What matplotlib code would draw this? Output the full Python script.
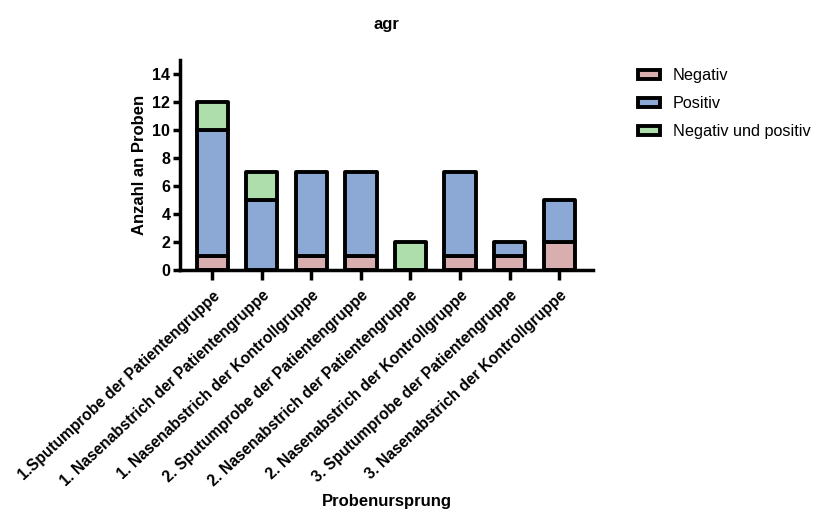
import numpy as np
import matplotlib.pyplot as plt
from matplotlib.patches import Patch

plt.rcParams['font.family'] = ['Liberation Sans', 'DejaVu Sans']

categories = [
    "1.Sputumprobe der Patientengruppe",
    "1. Nasenabstrich der Patientengruppe",
    "1. Nasenabstrich der Kontrollgruppe",
    "2. Sputumprobe der Patientengruppe",
    "2. Nasenabstrich der Patientengruppe",
    "2. Nasenabstrich der Kontrollgruppe",
    "3. Sputumprobe der Patientengruppe",
    "3. Nasenabstrich der Kontrollgruppe",
]
negativ = [1, 0, 1, 1, 0, 1, 1, 2]
positiv = [9, 5, 6, 6, 0, 6, 1, 3]
neg_und_pos = [2, 2, 0, 0, 2, 0, 0, 0]

series = [
    ("Negativ", negativ, "#D8AEAE"),
    ("Positiv", positiv, "#8BA9D4"),
    ("Negativ und positiv", neg_und_pos, "#ADDEAB"),
]

fig = plt.figure(figsize=(8.16, 5.29), dpi=100)
ax = fig.add_axes([0.2206, 0.4896, 0.506, 0.397])

x = np.arange(len(categories))
bottom = np.zeros(len(categories))
for name, vals, col in series:
    vals = np.array(vals, dtype=float)
    mask = vals > 0
    ax.bar(x[mask], vals[mask], bottom=bottom[mask], width=0.63, color=col,
           edgecolor="black", linewidth=2.8, label=name, capstyle="round",
           joinstyle="round")
    bottom += vals

ax.set_xlim(-0.65, 7.68)
ax.set_ylim(0, 15)
ax.set_yticks(range(0, 15, 2))
ax.set_xticks(x)
ax.set_xticklabels(categories, rotation=43, ha="right", rotation_mode="anchor",
                   fontsize=11.2, fontweight="bold")
for lab in ax.get_yticklabels():
    lab.set_fontweight("bold")
    lab.set_fontsize(11.5)

for s in ["top", "right"]:
    ax.spines[s].set_visible(False)
for s in ["left", "bottom"]:
    ax.spines[s].set_linewidth(2.5)
ax.tick_params(axis="y", width=2.5, length=5, pad=2)
ax.tick_params(axis="x", width=2.5, length=7, pad=6)

ax.set_ylabel("Anzahl an Proben", fontsize=12, fontweight="bold", labelpad=4)
ax.set_xlabel("Probenursprung", fontsize=12, fontweight="bold", labelpad=3)
ax.set_title("agr", fontsize=12, fontweight="bold", pad=22)

handles = [Patch(facecolor=c, edgecolor="black", linewidth=2.8, label=n)
           for n, _, c in series]
ax.legend(handles=handles, loc="upper left", bbox_to_anchor=(1.075, 1.03),
          frameon=False, fontsize=11.7, handlelength=1.35, handleheight=0.5,
          labelspacing=0.8, handletextpad=0.75)

fig.savefig("out.png", dpi=100)
